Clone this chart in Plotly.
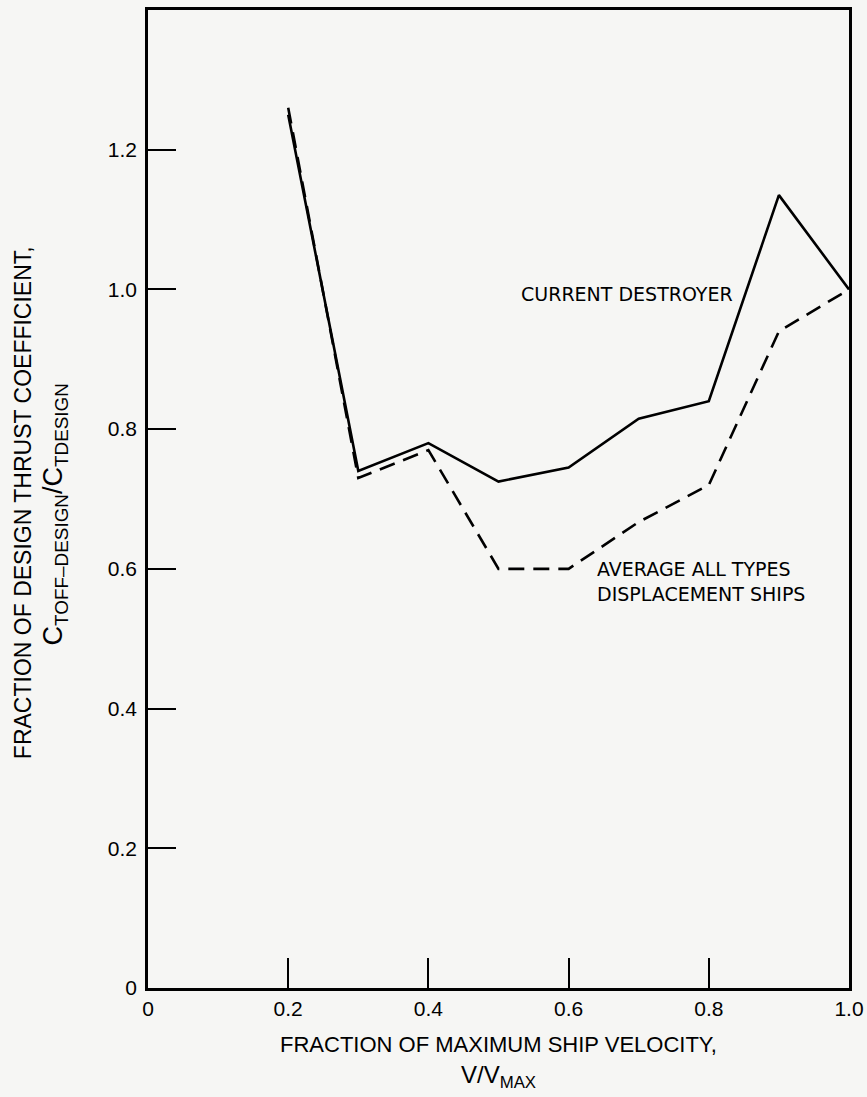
import plotly.graph_objects as go

# Data
x_vals = [0.2, 0.3, 0.4, 0.5, 0.6, 0.7, 0.8, 0.9, 1.0]
destroyer = [1.25, 0.74, 0.78, 0.725, 0.745, 0.815, 0.84, 1.135, 1.0]
average_all = [1.26, 0.73, 0.77, 0.60, 0.60, 0.667, 0.72, 0.94, 1.0]

x_ticks = [0, 0.2, 0.4, 0.6, 0.8, 1.0]
x_tick_labels = ["0", "0.2", "0.4", "0.6", "0.8", "1.0"]
y_ticks = [0, 0.2, 0.4, 0.6, 0.8, 1.0, 1.2]
y_tick_labels = ["0", "0.2", "0.4", "0.6", "0.8", "1.0", "1.2"]

BG = "#f6f6f4"
FONT = "Liberation Sans"
NARROW = "Liberation Sans Narrow, Liberation Sans"

fig = go.Figure()
fig.add_trace(go.Scatter(x=x_vals, y=destroyer, mode="lines",
                         line=dict(color="black", width=2.6),
                         showlegend=False, cliponaxis=False))
fig.add_trace(go.Scatter(x=x_vals, y=average_all, mode="lines",
                         line=dict(color="black", width=2.6, dash="16px,9px"),
                         showlegend=False, cliponaxis=False))

fig.update_layout(
    width=867, height=1097,
    margin=dict(l=148, r=18, t=10, b=109, autoexpand=False),
    paper_bgcolor=BG, plot_bgcolor=BG,
    font=dict(family=FONT, color="black"),
    showlegend=False,
)
fig.update_xaxes(range=[0, 1.0], tickvals=x_ticks, ticktext=x_tick_labels,
                 ticks="inside", ticklen=30, tickwidth=2, tickcolor="black",
                 showline=True, linewidth=2.5, linecolor="black", mirror=True,
                 showgrid=False, zeroline=False, automargin=False,
                 tickfont=dict(size=21, family=FONT))
fig.update_yaxes(range=[0, 1.4], tickvals=y_ticks, ticktext=y_tick_labels,
                 ticks="inside", ticklen=28, tickwidth=2, tickcolor="black",
                 showline=True, linewidth=2.5, linecolor="black", mirror=True,
                 showgrid=False, zeroline=False, ticklabelstandoff=4, automargin=False,
                 tickfont=dict(size=21, family=FONT))

# Axis titles
fig.add_annotation(x=0.5, y=-0.058, xref="paper", yref="paper",
                   text="FRACTION OF MAXIMUM SHIP VELOCITY,", showarrow=False,
                   font=dict(size=22, family=NARROW), xanchor="center", yanchor="middle")
fig.add_annotation(x=0.5, y=-0.091, xref="paper", yref="paper",
                   text="V/V<sub>MAX</sub>", showarrow=False,
                   font=dict(size=24, family=NARROW), xanchor="center", yanchor="middle")
fig.add_annotation(x=-0.178, y=0.496, xref="paper", yref="paper",
                   text="FRACTION OF DESIGN THRUST COEFFICIENT,", showarrow=False,
                   textangle=-90, font=dict(size=23, family=NARROW),
                   xanchor="center", yanchor="middle")
fig.add_annotation(x=-0.133, y=0.484, xref="paper", yref="paper",
                   text="C<sub>TOFF\u2013DESIGN</sub>/C<sub>TDESIGN</sub>",
                   showarrow=False,
                   textangle=-90, font=dict(size=27, family=FONT),
                   xanchor="center", yanchor="middle")

# Curve labels
fig.add_annotation(x=0.837, y=0.993, xref="x", yref="y",
                   text="CURRENT DESTROYER", showarrow=False,
                   font=dict(size=19, family="DejaVu Sans"), xanchor="right", yanchor="middle")
fig.add_annotation(x=0.638, y=0.618, xref="x", yref="y",
                   text="AVERAGE ALL TYPES<br>DISPLACEMENT SHIPS", showarrow=False,
                   align="left", font=dict(size=19, family="DejaVu Sans"),
                   xanchor="left", yanchor="top")

fig.write_html(
    "out.html", config={"displayModeBar": False},
    post_script=(
        "document.documentElement.style.margin='0';"
        "document.documentElement.style.overflow='hidden';"
        "document.body.style.margin='0';"
        "document.body.style.overflow='hidden';"
        "document.body.style.background='#f6f6f4';"
        "var d=document.querySelector('.plotly-graph-div');"
        "d.style.position='absolute';d.style.left='0';d.style.top='0';"
    ),
)
